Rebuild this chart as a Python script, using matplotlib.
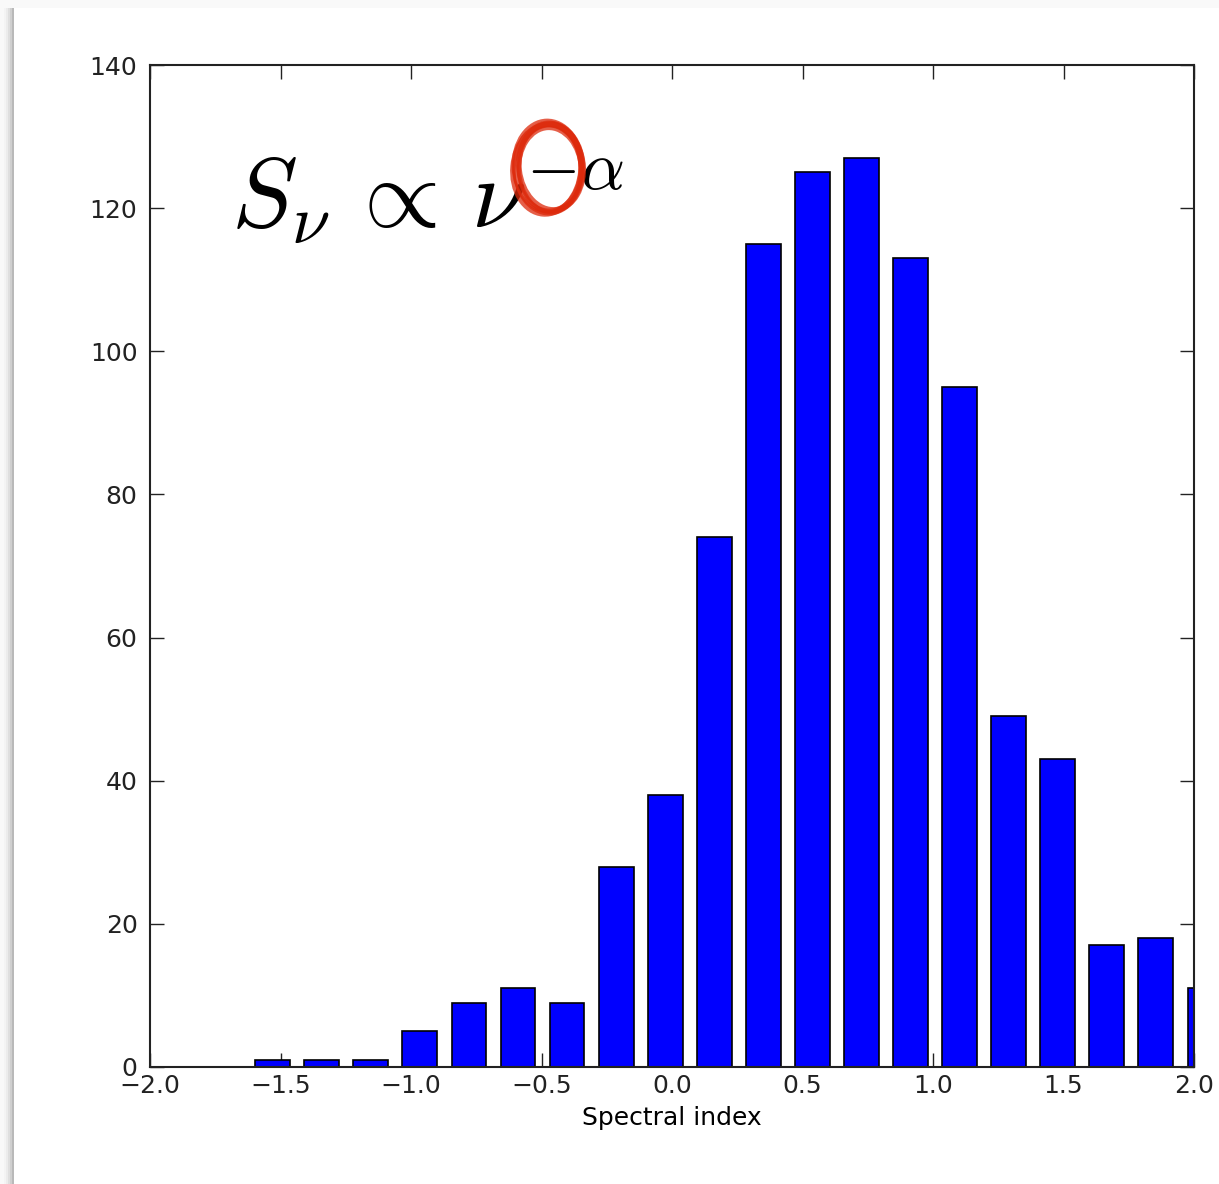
import numpy as np
import matplotlib.pyplot as plt
import matplotlib as mpl
from matplotlib.patches import Ellipse, Rectangle

mpl.rc('mathtext', fontset='cm')

# histogram of spectral indices (bin centres and counts)
bin_centres = [-1.906, -1.718, -1.530, -1.342, -1.154, -0.966, -0.778, -0.590,
               -0.402, -0.214, -0.026, 0.162, 0.350, 0.538, 0.726, 0.914,
               1.102, 1.290, 1.478, 1.666, 1.854, 2.042]
counts = [0, 0, 1, 1, 1, 5, 9, 11, 9, 28, 38, 74, 115, 125, 127, 113,
          95, 49, 43, 17, 18, 11]
bin_width = 0.188
xticks = [-2.0, -1.5, -1.0, -0.5, 0.0, 0.5, 1.0, 1.5, 2.0]
yticks = [0, 20, 40, 60, 80, 100, 120, 140]

fig = plt.figure(figsize=(12.19, 11.84), dpi=100)
fig.patch.set_facecolor('#f9f9f9')

# slide page with a soft shadow on the left
for i, a in enumerate([0.02, 0.03, 0.05, 0.07, 0.10]):
    fig.patches.append(Rectangle(((4 + 2*i)/1219, 0), 1, (1184 - 8)/1184,
                                 transform=fig.transFigure, facecolor='black',
                                 alpha=a, edgecolor='none', zorder=-2))
fig.patches.append(Rectangle((14/1219, 0), 1, (1184 - 8)/1184,
                             transform=fig.transFigure, facecolor='white',
                             edgecolor='none', zorder=-1))

ax = fig.add_axes([150/1219, 1 - 1067/1184, 1044/1219, 1002/1184])
ax.set_zorder(1)
ax.bar(bin_centres, counts, width=bin_width*0.71, color='#0000ff',
       edgecolor='black', linewidth=1.2, zorder=3)
ax.set_xlim(-2.0, 2.0)
ax.set_ylim(0, 140)
ax.set_xticks(xticks)
ax.set_yticks(yticks)
ax.set_xticklabels(['\u22122.0', '\u22121.5', '\u22121.0', '\u22120.5', '0.0',
                    '0.5', '1.0', '1.5', '2.0'])
ax.tick_params(direction='in', top=True, right=True, length=10, width=1,
               labelsize=18, colors='#222222')
ax.tick_params(axis='y', pad=9)
ax.tick_params(axis='x', pad=5)
for s in ax.spines.values():
    s.set_linewidth(1.5)
    s.set_color('#222222')
    s.set_zorder(4)
ax.set_xlabel('Spectral index', fontsize=18, labelpad=6)

ax.text(0.078, 0.838, r'$S_\nu\,\propto\,\nu^{-\alpha}$', transform=ax.transAxes,
        fontsize=71, va='baseline', ha='left')

# hand-drawn red circle around the minus sign
for dx, dy, w, h, ang, lw in [(0, 0, 66, 88, 0, 5), (2, -1, 64, 86, 6, 4),
                              (-2, 1, 68, 90, -5, 4), (1, 2, 62, 84, 3, 3),
                              (-1, -2, 70, 92, 2, 2)]:
    ax.add_patch(Ellipse(((549 + dx - 150)/1044, (1067 - 168 - dy)/1002),
                         w/1044, h/1002, angle=ang, transform=ax.transAxes,
                         fill=False, edgecolor='#dd2a0c', linewidth=lw,
                         alpha=0.75, clip_on=False, zorder=5))

fig.savefig('out.png', dpi=100)
